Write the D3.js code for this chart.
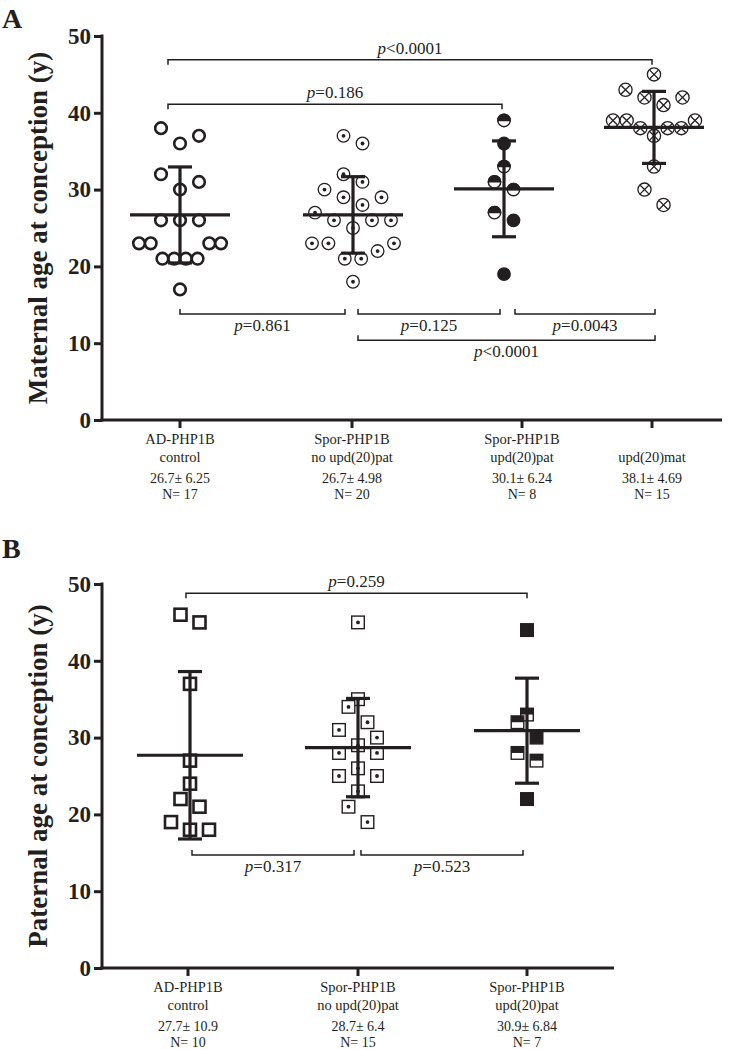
<!DOCTYPE html>
<html><head><meta charset="utf-8">
<script src="https://cdn.jsdelivr.net/npm/d3@7"></script>
<style>
body{margin:0;background:#fff}
svg{display:block}
text{font-family:"Liberation Serif","Times New Roman",serif;fill:#231f20}
</style>
</head><body>
<svg id="c" width="731" height="1050"></svg>
<script>
// ---------------- Panel A data ----------------
const labelTopA = ["AD-PHP1B", "Spor-PHP1B", "Spor-PHP1B", ""];
const labelBotA = ["control", "no upd(20)pat", "upd(20)pat", "upd(20)mat"];
const meanA = [26.7, 26.7, 30.1, 38.1];
const sdA = ["6.25", "4.98", "6.24", "4.69"];
const nA = [17, 20, 8, 15];
const valuesA1 = [38, 37, 36, 32, 31, 30, 26, 26, 26, 23, 23, 23, 23, 21, 21, 21, 21, 17];
const valuesA2 = [37, 36, 32, 31, 30, 29, 29, 28, 27, 26, 26, 26, 25, 23, 23, 23, 22, 21, 21, 18];
const valuesA3 = [39, 36, 33, 31, 30, 27, 26, 19];
const fillA3 = ["half", "full", "half", "half", "half", "half", "full", "full"];
const valuesA4 = [45, 43, 42, 42, 41, 39, 39, 39, 38, 38, 38, 37, 33, 30, 28];
const yTicksA = [0, 10, 20, 30, 40, 50];
// comparisons: [group i, group j, level (y units), p text, bracket direction]
const compsA = [
  [0, 3, 46.9, "<0.0001", "down"],
  [0, 2, 41.1, "=0.186", "down"],
  [0, 1, 13.8, "=0.861", "up"],
  [1, 2, 13.8, "=0.125", "up"],
  [2, 3, 13.8, "=0.0043", "up"],
  [1, 3, 10.4, "<0.0001", "up"]
];

// ---------------- Panel B data ----------------
const labelTopB = ["AD-PHP1B", "Spor-PHP1B", "Spor-PHP1B"];
const labelBotB = ["control", "no upd(20)pat", "upd(20)pat"];
const meanB = [27.7, 28.7, 30.9];
const sdB = ["10.9", "6.4", "6.84"];
const nB = [10, 15, 7];
const valuesB1 = [46, 45, 37, 27, 24, 22, 21, 19, 18, 18];
const valuesB2 = [45, 35, 34, 32, 31, 30, 29, 28, 28, 26, 25, 25, 23, 21, 19];
const valuesB3 = [44, 33, 32, 30, 28, 27, 22];
const fillB3 = ["full", "half", "half", "full", "half", "half", "full"];
const yTicksB = [0, 10, 20, 30, 40, 50];
const compsB = [
  [0, 2, 48.8, "=0.259", "down"],
  [0, 1, 14.7, "=0.317", "up"],
  [1, 2, 14.7, "=0.523", "up"]
];

// ---------------- drawing ----------------
const svg = d3.select("#c");
const INK = "#231f20";

// scatter-dot-plot spreading: values within a small band share a row,
// spread symmetrically, smallest values nearest the centre.
function spread(values, band, maxStep, maxWidth) {
  const order = values.map((v, i) => ({v, i})).sort((a, b) => a.v - b.v);
  const out = new Array(values.length);
  let k = 0;
  while (k < order.length) {
    const start = order[k].v, row = [];
    while (k < order.length && order[k].v - start <= band + 1e-9) row.push(order[k++]);
    const n = row.length, st = n > 1 ? Math.min(maxStep, maxWidth / (n - 1)) : 0;
    const slots = d3.range(n).map(j => (j - (n - 1) / 2) * st)
      .sort((a, b) => Math.abs(a) - Math.abs(b) || b - a);
    row.forEach((p, j) => out[p.i] = slots[j]);
  }
  return out;
}

function panel(cfg) {
  const g = svg.append("g");
  const y = d3.scaleLinear().domain([0, 50]).range([cfg.y0, cfg.y50]);
  const x = d3.scaleOrdinal().domain(d3.range(cfg.n)).range(cfg.xs);
  const xl = d3.scaleOrdinal().domain(d3.range(cfg.n)).range(cfg.xl);

  // y axis
  const ya = d3.axisLeft(y).tickValues(cfg.yTicks).tickSize(8).tickPadding(3).tickFormat(d3.format("d"));
  const yg = g.append("g").attr("transform", `translate(${cfg.ax},0)`).call(ya);
  yg.select(".domain").remove();
  yg.selectAll(".tick line").attr("stroke", INK).attr("stroke-width", 3);
  yg.selectAll(".tick text").attr("font-size", 23).attr("font-weight", "bold").attr("fill", INK)
    .style("font-family", '"Liberation Serif",serif');
  g.append("line").attr("x1", cfg.ax).attr("x2", cfg.ax).attr("y1", y(50) - 1.5).attr("y2", y(0) + 1.5)
    .attr("stroke", INK).attr("stroke-width", 3);
  // x axis
  g.append("line").attr("x1", cfg.ax - 1.5).attr("x2", cfg.xEnd).attr("y1", y(0)).attr("y2", y(0))
    .attr("stroke", INK).attr("stroke-width", 3);
  g.selectAll(".xt").data(d3.range(cfg.n)).join("line").attr("class", "xt")
    .attr("x1", d => xl(d)).attr("x2", d => xl(d)).attr("y1", y(0)).attr("y2", y(0) + 8)
    .attr("stroke", INK).attr("stroke-width", 3);

  // axis title
  g.append("text").attr("transform", `translate(${cfg.titleX},${(y(0) + y(50)) / 2}) rotate(-90)`)
    .attr("text-anchor", "middle").attr("font-size", 27).attr("font-weight", "bold").text(cfg.title);
  // panel letter
  g.append("text").attr("x", 2).attr("y", cfg.letterY).attr("font-size", 28).attr("font-weight", "bold").text(cfg.letter);

  // category labels
  const lab = g.selectAll(".lab").data(d3.range(cfg.n)).join("g").attr("class", "lab")
    .attr("transform", d => `translate(${xl(d)},${y(0)})`);
  lab.append("text").attr("y", 24).attr("text-anchor", "middle").attr("font-size", 14.5).text(d => cfg.top[d]);
  lab.append("text").attr("y", 42).attr("text-anchor", "middle").attr("font-size", 14.5).text(d => cfg.bot[d]);
  lab.append("text").attr("y", 63).attr("text-anchor", "middle").attr("font-size", 14)
    .text(d => `${d3.format(".1f")(cfg.mean[d])}\u00b1 ${cfg.sd[d]}`);
  lab.append("text").attr("y", 79).attr("text-anchor", "middle").attr("font-size", 14).text(d => `N= ${cfg.N[d]}`);

  // points
  cfg.groups.forEach((grp, gi) => {
    const off = spread(grp.values, 2, 19, 82);
    const sel = g.selectAll(`.pt${gi}`).data(grp.values.map((v, i) => ({v, i, dx: off[i]})))
      .join("g").attr("class", `pt${gi}`)
      .attr("transform", d => `translate(${x(gi) + d.dx},${y(d.v)})`);
    grp.draw(sel);
  });

  // mean & SD
  const ms = g.selectAll(".ms").data(d3.range(cfg.n)).join("g").attr("class", "ms");
  ms.append("line").attr("x1", d => x(d) - cfg.meanW).attr("x2", d => x(d) + cfg.meanW)
    .attr("y1", d => y(cfg.mean[d])).attr("y2", d => y(cfg.mean[d]));
  ms.append("line").attr("x1", d => x(d)).attr("x2", d => x(d))
    .attr("y1", d => y(cfg.mean[d] + +cfg.sd[d])).attr("y2", d => y(cfg.mean[d] - +cfg.sd[d]));
  ms.append("line").attr("x1", d => x(d) - 12).attr("x2", d => x(d) + 12)
    .attr("y1", d => y(cfg.mean[d] + +cfg.sd[d])).attr("y2", d => y(cfg.mean[d] + +cfg.sd[d]));
  ms.append("line").attr("x1", d => x(d) - 12).attr("x2", d => x(d) + 12)
    .attr("y1", d => y(cfg.mean[d] - +cfg.sd[d])).attr("y2", d => y(cfg.mean[d] - +cfg.sd[d]));
  ms.selectAll("line").attr("stroke", INK).attr("stroke-width", 3.2);

  // comparisons
  cfg.comps.forEach((c, ci) => {
    const [a, b, lvl, ptxt, dir] = c;
    const ins = cfg.inset[ci];
    const x1 = x(a) + ins[0], x2 = x(b) + ins[1], yy = y(lvl);
    const t = dir === "down" ? 5 : -5;
    g.append("path").attr("d", `M${x1},${yy + t}V${yy}H${x2}V${yy + t}`)
      .attr("fill", "none").attr("stroke", INK).attr("stroke-width", 1.5);
    const tx = g.append("text").attr("x", (x1 + x2) / 2).attr("y", dir === "down" ? yy - 6 : yy + 17)
      .attr("text-anchor", "middle").attr("font-size", 17);
    tx.append("tspan").attr("font-style", "italic").text("p");
    tx.append("tspan").text(ptxt);
  });
}

function openCircle(sel) {
  sel.append("circle").attr("r", 5.8).attr("fill", "#fff").attr("stroke", INK).attr("stroke-width", 2.6);
}
function dotCircle(sel) {
  sel.append("circle").attr("r", 6.3).attr("fill", "#fff").attr("stroke", INK).attr("stroke-width", 1.3);
  sel.append("circle").attr("r", 1.9).attr("fill", INK);
}
function halfCircle(fills) {
  return sel => {
    sel.append("circle").attr("r", 6.2).attr("fill", d => fills[d.i] === "full" ? INK : "#fff")
      .attr("stroke", INK).attr("stroke-width", 1.4);
    sel.filter(d => fills[d.i] === "half").append("path").attr("d", "M-6.2,0A6.2,6.2 0 0 1 6.2,0Z").attr("fill", INK)
      .attr("stroke", INK).attr("stroke-width", 1.4);
  };
}
function crossCircle(sel) {
  sel.append("circle").attr("r", 6.6).attr("fill", "#fff").attr("stroke", INK).attr("stroke-width", 1.3);
  sel.append("path").attr("d", "M-4.3,-4.3L4.3,4.3M-4.3,4.3L4.3,-4.3").attr("stroke", INK).attr("stroke-width", 1.3);
}
function openSquare(sel) {
  sel.append("rect").attr("x", -6).attr("y", -6).attr("width", 12).attr("height", 12)
    .attr("fill", "#fff").attr("stroke", INK).attr("stroke-width", 2.6);
}
function dotSquare(sel) {
  sel.append("rect").attr("x", -6.3).attr("y", -6.3).attr("width", 12.6).attr("height", 12.6)
    .attr("fill", "#fff").attr("stroke", INK).attr("stroke-width", 1.4);
  sel.append("circle").attr("r", 1.9).attr("fill", INK);
}
function halfSquare(fills) {
  return sel => {
    sel.append("rect").attr("x", -6.3).attr("y", -6.3).attr("width", 12.6).attr("height", 12.6)
      .attr("fill", d => fills[d.i] === "full" ? INK : "#fff").attr("stroke", INK).attr("stroke-width", 1.4);
    sel.filter(d => fills[d.i] === "half").append("rect").attr("x", -6.3).attr("y", -6.3).attr("width", 12.6).attr("height", 6.3)
      .attr("fill", INK);
  };
}

panel({
  letter: "A", letterY: 28, title: "Maternal age at conception (y)", titleX: 47,
  n: 4, y0: 420, y50: 36, ax: 102, xEnd: 722,
  xs: [180, 353, 504, 654], xl: [180, 352, 522, 652],
  yTicks: yTicksA, top: labelTopA, bot: labelBotA, mean: meanA, sd: sdA, N: nA, meanW: 50,
  groups: [
    {values: valuesA1, draw: openCircle},
    {values: valuesA2, draw: dotCircle},
    {values: valuesA3, draw: halfCircle(fillA3)},
    {values: valuesA4, draw: crossCircle}
  ],
  comps: compsA,
  inset: [[-12, -2], [-12, -2], [0, -8], [5, -4], [11, 1], [5, 1]]
});

panel({
  letter: "B", letterY: 558, title: "Paternal age at conception (y)", titleX: 47,
  n: 3, y0: 968, y50: 584, ax: 102, xEnd: 614,
  xs: [190, 358, 527], xl: [188, 358, 527],
  yTicks: yTicksB, top: labelTopB, bot: labelBotB, mean: meanB, sd: sdB, N: nB, meanW: 53,
  groups: [
    {values: valuesB1, draw: openSquare},
    {values: valuesB2, draw: dotSquare},
    {values: valuesB3, draw: halfSquare(fillB3)}
  ],
  comps: compsB,
  inset: [[-4, 0], [2, -4], [3, -4]]
});
</script>
</body></html>
